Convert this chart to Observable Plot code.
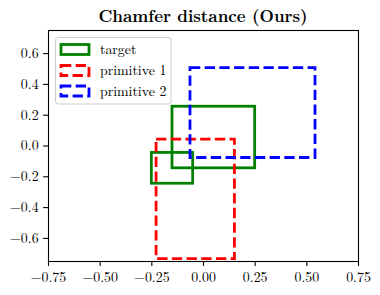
<!DOCTYPE html>
<html><head><meta charset="utf-8">
<script src="https://cdn.jsdelivr.net/npm/d3@7"></script>
<script src="https://cdn.jsdelivr.net/npm/@observablehq/plot@0.6"></script>
<style>
html,body{margin:0;padding:0;background:#fff;}
#wrap{position:relative;width:380px;height:295px;overflow:hidden;}
#wrap svg{position:absolute;left:0;top:0;}
</style></head><body>
<div id="wrap"></div>
<script>
const FONT = "'Latin Modern Roman', 'Liberation Serif', serif";
const titleText = "Chamfer distance (Ours)";
const labels = ["target", "primitive 1", "primitive 2"];
const series = ["target", "target", "primitive 1", "primitive 2"];
const x1 = [-0.15, -0.25, -0.227, -0.063];
const x2 = [0.25, -0.05, 0.152, 0.542];
const y1 = [-0.145, -0.245, -0.734, -0.078];
const y2 = [0.255, -0.045, 0.041, 0.505];
const xTicks = [-0.75, -0.5, -0.25, 0, 0.25, 0.5, 0.75];
const yTicks = [-0.6, -0.4, -0.2, 0, 0.2, 0.4, 0.6];
const colors = ["green", "red", "blue"];
const dashes = [null, "10.3,4.4", "10.3,4.4"];

const data = series.map((s, i) => ({series: s, x1: x1[i], x2: x2[i], y1: y1[i], y2: y2[i]}));

const marks = [];
labels.forEach((s, k) => {
  marks.push(Plot.rect(data.filter(d => d.series === s), {
    x1: "x1", x2: "x2", y1: "y1", y2: "y2",
    fill: "none", stroke: colors[k], strokeWidth: 2.78,
    strokeDasharray: dashes[k]
  }));
});
marks.push(Plot.frame({stroke: "black", strokeWidth: 1.1}));
marks.push(Plot.axisX({ticks: xTicks, tickFormat: d3.format(".2f"), tickSize: 4.9, tickPadding: 6, strokeWidth: 1.1, label: null}));
marks.push(Plot.axisY({ticks: yTicks, tickFormat: d3.format(".1f"), tickSize: 4.9, tickPadding: 5, strokeWidth: 1.1, label: null}));

const svg = Plot.plot({
  width: 380, height: 295,
  marginLeft: 48, marginRight: 22, marginTop: 30, marginBottom: 34,
  x: {domain: [-0.75, 0.75]},
  y: {domain: [-0.75, 0.75]},
  style: {background: "white", color: "black", fontSize: "13.9px"},
  marks
});

const wrap = document.getElementById("wrap");
wrap.appendChild(svg);

// title
const t = document.createElement("div");
t.textContent = titleText;
Object.assign(t.style, {position: "absolute", top: "3px", left: "48px", width: "310px", textAlign: "center",
  fontWeight: "bold", fontSize: "16.7px", color: "#000", fontFamily: FONT, whiteSpace: "nowrap"});
wrap.appendChild(t);

// legend
const g = d3.select(svg).append("g").attr("text-anchor", "start");
g.append("rect").attr("x", 55.5).attr("y", 37.5).attr("width", 115.5).attr("height", 66.5)
  .attr("rx", 3).attr("fill", "white").attr("fill-opacity", 0.8).attr("stroke", "#cccccc").attr("stroke-width", 1);
const rowY = [49.5, 70.5, 91];
labels.forEach((s, k) => {
  g.append("rect").attr("x", 61).attr("y", rowY[k] - 5).attr("width", 28).attr("height", 10)
    .attr("fill", "none").attr("stroke", colors[k]).attr("stroke-width", 2.78)
    .attr("stroke-dasharray", dashes[k]);
  g.append("text").attr("x", 100).attr("y", rowY[k]).attr("dy", "0.35em")
    .attr("text-anchor", "start").attr("font-size", 13.9).attr("fill", "black").text(s);
});

d3.select(svg).selectAll("text").attr("font-family", FONT).style("font-family", FONT);
</script>
</body></html>
